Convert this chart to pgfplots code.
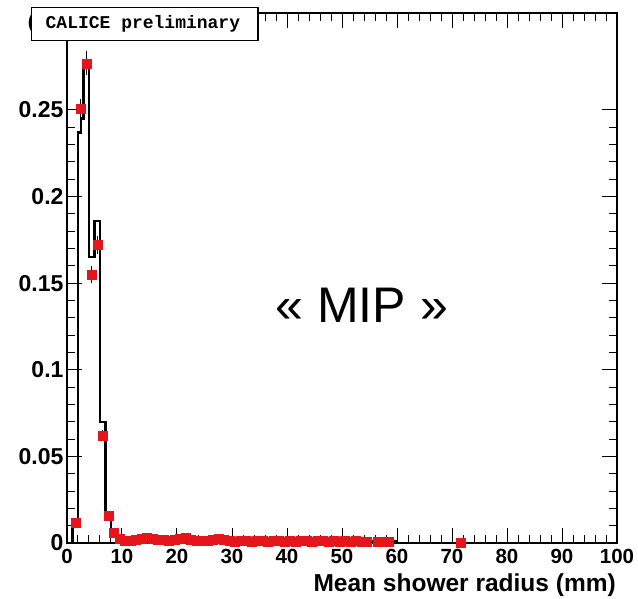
\documentclass[border=0pt]{standalone}
\usepackage{pgfplots}
\pgfplotsset{compat=1.18}
\usepackage{fontspec}
\setmainfont{Liberation Sans}
\newfontfamily\monofont{Liberation Mono}
\definecolor{mred}{RGB}{228,22,28}
\begin{document}
\begin{tikzpicture}
\begin{axis}[
  scale only axis, width=550pt, height=530pt,
  xmin=0, xmax=100, ymin=0, ymax=0.306,
  xtick={0,10,20,30,40,50,60,70,80,90,100},
  xticklabels={0,10,20,30,40,50,60,70,80,90,100},
  ytick={0,0.05,0.1,0.15,0.2,0.25},
  yticklabels={0,0.05,0.1,0.15,0.2,0.25},
  minor x tick num=4, minor y tick num=4,
  tick align=inside, major tick length=15pt, minor tick length=8pt,
  tick style={black, line width=1pt},
  axis line style={line width=1.3pt},
  /pgf/number format/assume math mode=true,
  xticklabel style={font=\bfseries\fontsize{20.5}{20.5}\selectfont, yshift=-3pt},
  yticklabel style={font=\bfseries\fontsize{23}{23}\selectfont},
  xlabel={Mean shower radius (mm)},
  xlabel style={font=\bfseries\fontsize{24.5}{24.5}\selectfont, at={(rel axis cs:1,0)}, anchor=north east, yshift=-31pt, xshift=-1pt, inner sep=0pt},
  clip=false,
]
% black histogram
\addplot[const plot mark left, black, line width=2.4pt] coordinates {
(1,0) (1,0.012) (2,0.237) (2.5,0.245) (3,0.279) (4,0.165) (5,0.186) (6,0.07) (7,0.016) (8,0.005) (9,0.002) (10,0.001) (60,0.001) (60,0)
};
% red markers with error bars
\addplot[only marks, mark=square*, mark size=4.5pt, color=mred,
  error bars/.cd, y dir=both, y explicit, error bar style={black, line width=0.8pt}, error mark=none]
coordinates {
(1.5,0.0115) +- (0,0.002)
(2.5,0.2506) +- (0,0.006)
(3.5,0.277) +- (0,0.007)
(4.5,0.155) +- (0,0.005)
(5.5,0.172) +- (0,0.005)
(6.5,0.062) +- (0,0.003)
(7.5,0.016) +- (0,0.002)
(8.5,0.006) +- (0,0.001)
};
\addplot[only marks, mark=square*, mark size=4.5pt, color=mred] coordinates {
(9.5,0.0025) (10.5,0.0015) (11.5,0.0015) (12.5,0.002) (13.5,0.0025) (14.5,0.003)
(15.5,0.0025) (16.5,0.002) (17.5,0.002) (18.5,0.0015) (19.5,0.002) (20.5,0.0025)
(21.5,0.003) (22.5,0.002) (23.5,0.0015) (24.5,0.0015) (25.5,0.0015) (26.5,0.002)
(27.5,0.0025) (28.5,0.002) (29.5,0.0015) (30.5,0.001) (31.5,0.0015) (32.5,0.0012)
(33.5,0.001) (34.5,0.0015) (35.5,0.0012) (36.5,0.001) (37.5,0.0012) (38.5,0.0015)
(39.5,0.001) (40.5,0.0012) (41.5,0.001) (42.5,0.0012) (43.5,0.0015) (44.5,0.001)
(45.5,0.0012) (46.5,0.0015) (47.5,0.001) (48.5,0.0012) (49.5,0.001) (50.5,0.0012)
(51.5,0.001) (52.5,0.0012) (53.5,0.001) (54.5,0.0008) (56.5,0.0006) (57.5,0.0008)
(58.5,0.0006) (71.5,0.0003)
};
\node[font=\fontsize{50}{50}\selectfont] at (axis cs:53.6,0.137) {« MIP »};
\node[font=\bfseries\fontsize{20}{20}\selectfont, inner sep=0pt] at (axis cs:-6.5,0.300) {(};
\coordinate (sw) at (rel axis cs:0,0);
\coordinate (ne) at (rel axis cs:1,1);
\coordinate (b1) at (axis cs:-6.4,0.2902);
\coordinate (b2) at (axis cs:34.7,0.3092);
\coordinate (bt) at (axis cs:13.8,0.2997);
\end{axis}
\draw[fill=white, line width=1.3pt] (b1) rectangle (b2);
\node[font=\monofont\bfseries\fontsize{18}{18}\selectfont] at (bt) {CALICE preliminary};
\pgfresetboundingbox
\path ([shift={(-67pt,-56pt)}]sw) rectangle ([shift={(21pt,13pt)}]ne);
\end{tikzpicture}
\end{document}
